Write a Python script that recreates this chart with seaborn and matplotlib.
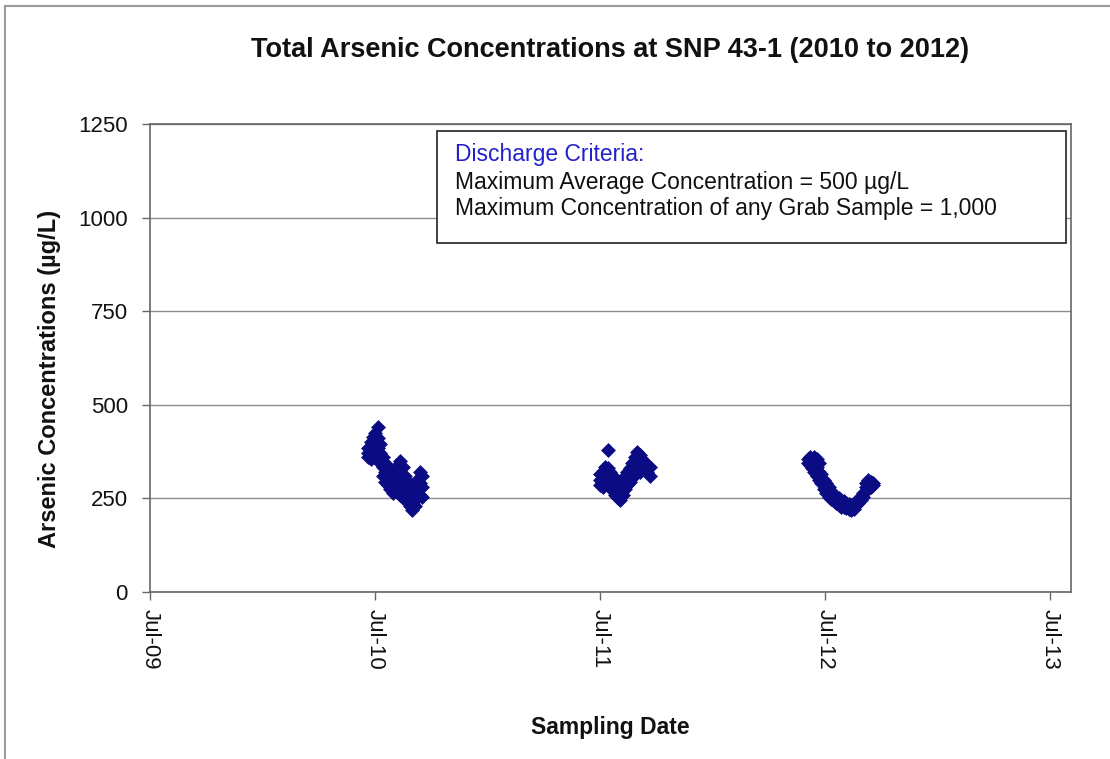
import pandas as pd
import matplotlib.pyplot as plt
import matplotlib.dates as mdates
import seaborn as sns
from matplotlib.patches import Rectangle

# sampling dates and concentrations (µg/L), several grab samples per date
dates_2010 = [
    "2010-06-20", "2010-06-24", "2010-06-28", "2010-07-02", "2010-07-06",
    "2010-07-10", "2010-07-14", "2010-07-18", "2010-07-22", "2010-07-26",
    "2010-07-30", "2010-08-03", "2010-08-07", "2010-08-11", "2010-08-15",
    "2010-08-19", "2010-08-23", "2010-08-27", "2010-08-31", "2010-09-04",
    "2010-09-08", "2010-09-12", "2010-09-16",
]
values_2010 = [
    [370, 385, 360], [400, 375, 355], [415, 390, 365], [425, 400, 380],
    [440, 410, 385], [395, 370, 345], [360, 335, 310], [345, 320, 295],
    [330, 305, 285], [320, 295, 275], [310, 285, 265], [325, 300, 275],
    [340, 310, 285], [350, 315, 280, 260], [335, 300, 270, 250],
    [310, 285, 255], [295, 265, 240], [280, 250, 230], [265, 240, 220],
    [275, 245, 230], [300, 270, 250], [320, 290, 260], [310, 280, 255],
]

dates_2011 = [
    "2011-07-02", "2011-07-06", "2011-07-10", "2011-07-14", "2011-07-18",
    "2011-07-22", "2011-07-26", "2011-07-30", "2011-08-03", "2011-08-07",
    "2011-08-11", "2011-08-15", "2011-08-19", "2011-08-23", "2011-08-27",
    "2011-08-31", "2011-09-04", "2011-09-08", "2011-09-12", "2011-09-16",
    "2011-09-20",
]
values_2011 = [
    [300, 285, 315], [320, 295, 280], [335, 305, 290], [380, 330, 300],
    [320, 295, 280], [310, 285, 270], [300, 275, 260], [290, 265, 250],
    [280, 255, 245], [300, 275, 260], [310, 290, 275], [320, 300, 285],
    [330, 310, 295], [345, 320, 305], [360, 335, 315], [375, 350, 325],
    [365, 340, 320], [355, 335], [345, 325], [340, 320], [335, 310],
]

dates_2012 = [
    "2012-06-03", "2012-06-06", "2012-06-09", "2012-06-13", "2012-06-17",
    "2012-06-21", "2012-06-25", "2012-06-29", "2012-07-03", "2012-07-07",
    "2012-07-11", "2012-07-15", "2012-07-19", "2012-07-23", "2012-07-27",
    "2012-07-31", "2012-08-04", "2012-08-08", "2012-08-12", "2012-08-16",
    "2012-08-20", "2012-08-24", "2012-08-28", "2012-09-01", "2012-09-05",
    "2012-09-09", "2012-09-13", "2012-09-17",
]
values_2012 = [
    [345, 355], [360, 340], [350, 330], [360, 340, 320], [355, 335, 310],
    [345, 320, 300], [315, 300, 290], [300, 285, 275], [290, 275, 265],
    [280, 265, 255], [270, 255, 248], [260, 250, 242], [255, 245, 238],
    [250, 240, 232], [245, 236, 228], [242, 232, 226], [238, 230, 224],
    [235, 228, 222], [232, 225, 220], [236, 228, 222], [240, 232],
    [248, 238], [255, 245], [265, 255], [280, 270, 290], [300, 285],
    [295, 280], [290, 285],
]

y_ticks = [0, 250, 500, 750, 1000, 1250]
x_ticks = ["2009-07-01", "2010-07-01", "2011-07-01", "2012-07-01", "2013-07-01"]

TITLE = "Total Arsenic Concentrations at SNP 43-1 (2010 to 2012)"
CRITERIA = [
    "Maximum Average Concentration = 500 µg/L",
    "Maximum Concentration of any Grab Sample = 1,000",
]


def build_frame():
    rows = []
    for dates, values in [(dates_2010, values_2010),
                          (dates_2011, values_2011),
                          (dates_2012, values_2012)]:
        for d, vals in zip(dates, values):
            for v in vals:
                rows.append({"date": pd.Timestamp(d), "arsenic": v})
    return pd.DataFrame(rows)


def main():
    sns.set_theme(style="white")
    plt.rcParams["font.family"] = ["Liberation Sans", "DejaVu Sans"]

    df = build_frame()

    fig = plt.figure(figsize=(11.1, 7.59), dpi=100)
    ax = fig.add_axes([150 / 1110, 1 - 592 / 759, 921 / 1110, 468 / 759])

    sns.scatterplot(
        data=df,
        x="date",
        y="arsenic",
        marker="D",
        s=50,
        color="#0b0b84",
        edgecolor="#0b0b84",
        linewidth=0.5,
        ax=ax,
        zorder=3,
    )

    ax.set_ylim(0, 1250)
    ax.set_yticks(y_ticks)
    ax.set_xlim(pd.Timestamp("2009-07-01"), pd.Timestamp("2013-08-04"))
    ax.set_xticks([pd.Timestamp(t) for t in x_ticks])
    ax.xaxis.set_major_formatter(mdates.DateFormatter("%b-%y"))

    ax.yaxis.grid(True, color="#8c8c8c", linewidth=1)
    ax.set_axisbelow(True)
    for spine in ax.spines.values():
        spine.set_color("#666666")
        spine.set_linewidth(1.2)

    ax.tick_params(axis="both", direction="out", length=6, width=1,
                   color="#666666", labelsize=16, labelcolor="#111111",
                   bottom=True, left=True)
    ax.tick_params(axis="x", pad=6)
    ax.tick_params(axis="y", pad=10)
    plt.setp(ax.get_xticklabels(), rotation=-90, va="top", ha="center")

    ax.set_xlabel("Sampling Date", fontsize=16.5, fontweight="bold",
                  color="#111111")
    ax.set_ylabel("Arsenic Concentrations (µg/L)", fontsize=17,
                  fontweight="bold", color="#111111")
    ax.xaxis.set_label_coords(0.5, -0.29)
    ax.xaxis.label.set_va("center")
    ax.yaxis.set_label_coords(-0.109, 0.455)
    ax.yaxis.label.set_va("center")

    fig.text(610 / 1110, 1 - 50 / 759, TITLE, fontsize=19.5, fontweight="bold",
             ha="center", va="center", color="#111111")

    # criteria box
    fig.patches.append(Rectangle(
        (437 / 1110, 1 - 243 / 759), 629 / 1110, 112 / 759,
        transform=fig.transFigure, facecolor="white", edgecolor="#222222",
        linewidth=1.2, zorder=5,
    ))
    fig.text(455 / 1110, 1 - 155 / 759, "Discharge Criteria:", fontsize=16.5,
             color="#2222cc", va="center", zorder=6)
    for i, line in enumerate(CRITERIA):
        fig.text(455 / 1110, 1 - (183 + 25 * i) / 759, line, fontsize=16.5,
                 color="#111111", va="center", zorder=6)

    # outer chart frame
    fig.patches.append(Rectangle(
        (5 / 1110, -0.05), 1.2, 1 - 6 / 759 + 0.05,
        transform=fig.transFigure, facecolor="none", edgecolor="#9a9a9a",
        linewidth=1.5,
    ))

    fig.savefig("out.png", dpi=100)
    plt.close(fig)


if __name__ == "__main__":
    main()
